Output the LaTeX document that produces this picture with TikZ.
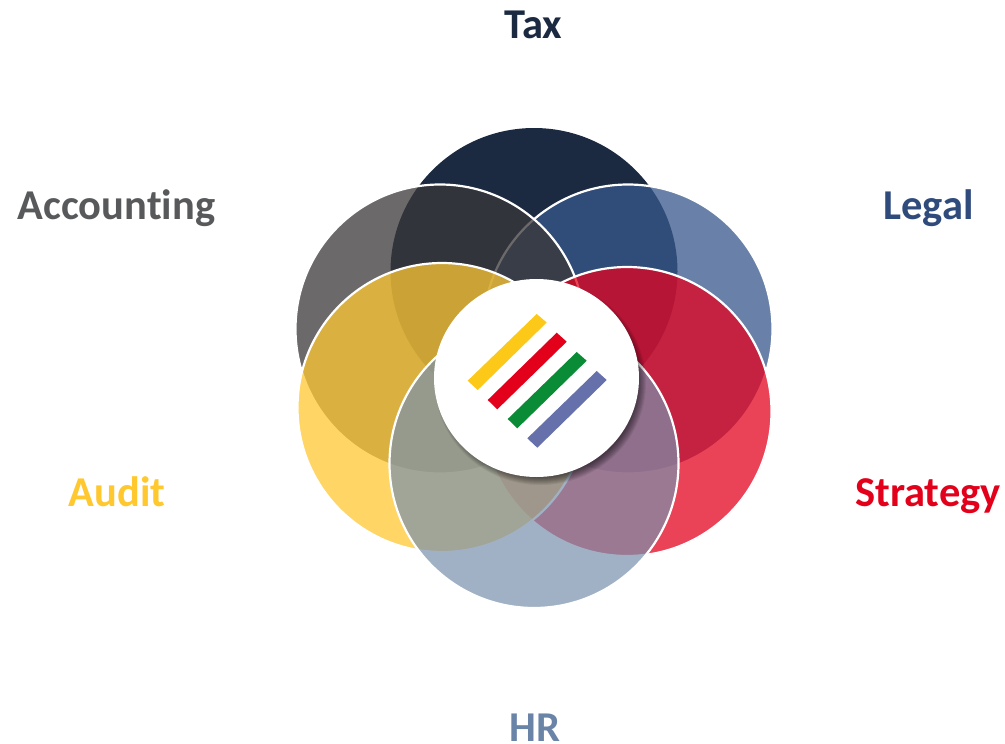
\documentclass[tikz,border=0pt]{standalone}
\usepackage{fontspec}
\setmainfont{Carlito}[Ligatures=NoCommon]
\definecolor{taxc}{HTML}{1B2A41}
\definecolor{legalc}{HTML}{38588B}
\definecolor{acctc}{HTML}{3B3839}
\definecolor{stratc}{HTML}{E4031F}
\definecolor{auditc}{HTML}{FFC833}
\definecolor{hrc}{HTML}{7A91AD}
\definecolor{barY}{HTML}{FCC918}
\definecolor{barR}{HTML}{E2001A}
\definecolor{barG}{HTML}{0A8C36}
\definecolor{barB}{HTML}{6670AB}
\definecolor{txtA}{HTML}{58595B}
\definecolor{txtL}{HTML}{2F4B7C}
\definecolor{txtU}{HTML}{FFC82E}
\definecolor{txtH}{HTML}{6A84A8}
\tikzset{
  petal/.style={draw=white,line width=2.2pt,fill opacity=.75},
  lab/.style={font=\fontsize{42.5}{44}\selectfont\bfseries,inner sep=0pt,anchor=base},
}
\begin{document}
\begin{tikzpicture}[x=1pt,y=-1pt]
\useasboundingbox (0,0) rectangle (1005,744);
\fill[white] (0,0) rectangle (1005,744);
% petals
\fill[taxc] (534,271.5) circle[radius=143.5];
\path[petal,fill=legalc] (628,329) circle[radius=144.5];
\path[petal,fill=acctc] (440,329) circle[radius=144.5];
\path[petal,fill=stratc] (627,411.5) circle[radius=144.5];
\path[petal,fill=auditc] (442,407.5) circle[radius=144.5];
\path[petal,fill=hrc,fill opacity=.7] (534,463.5) circle[radius=144.5];
% soft shadow of the centre disc
\foreach \i in {0,...,8}{
  \fill[black,opacity=.07] ({536.5+4},{378+5}) ellipse[x radius={102.5+3-\i},y radius={99+3-\i}];
}
\fill[white] (536.5,378) ellipse[x radius=102.5,y radius=99];
% bars
\fill[barY] (536.7,314) -- (546.7,322.5) -- (477.7,390) -- (467.7,380.7) -- cycle;
\fill[barR] (556.7,332.7) -- (566.7,341.7) -- (497.3,409.3) -- (487.7,400) -- cycle;
\fill[barG] (576.7,352) -- (586.7,360.7) -- (517.3,428.3) -- (507.7,419) -- cycle;
\fill[barB] (596.7,371) -- (606.7,380) -- (537.3,447.7) -- (527.3,438.3) -- cycle;
% labels
\node[lab,text=taxc] (tax) at (533.5,38) {Tax};
\node[lab,text=txtA] (acct) at (116.5,219) {Accounting};
\node[lab,text=txtL] (legal) at (928.5,219) {Legal};
\node[lab,text=txtU] (audit) at (117,506) {Audit};
\node[lab,text=barR] (strategy) at (928,506) {Strategy};
\node[lab,text=txtH] (hr) at (535,741) {HR};
\end{tikzpicture}
\end{document}
